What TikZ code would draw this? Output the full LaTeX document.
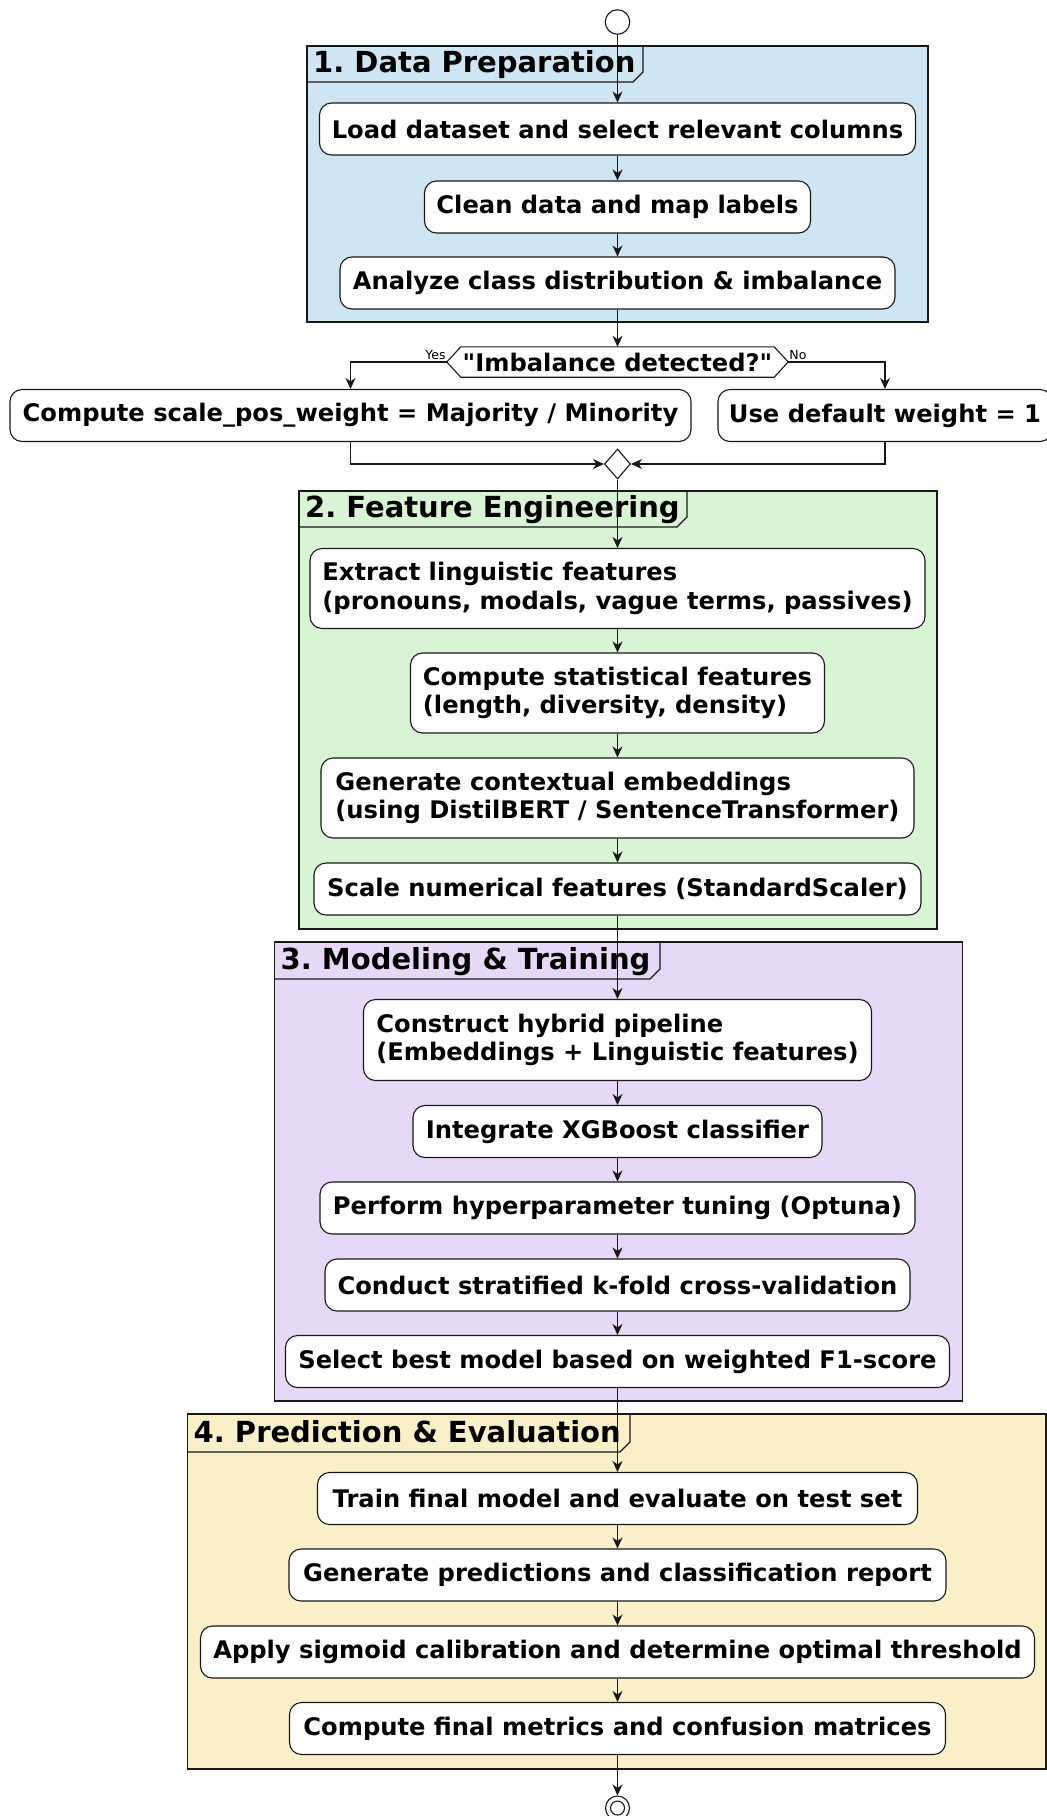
\documentclass[tikz,border=0pt]{standalone}
\usepackage{fontspec}
\setmainfont{DejaVu Sans}[Ligatures=TeXOff]
\usetikzlibrary{arrows.meta,shapes.geometric,calc}

\definecolor{prepfill}{HTML}{CFE5F2}
\definecolor{featfill}{HTML}{D9F3D5}
\definecolor{modfill}{HTML}{E6D8F6}
\definecolor{evalfill}{HTML}{F9F0C9}
\definecolor{ink}{HTML}{181818}

\tikzset{
  act/.style={draw=ink, line width=1.1pt, fill=white, rounded corners=12pt,
    font=\fontsize{24.2}{28.5}\selectfont\bfseries, inner xsep=0pt, inner ysep=0pt,
    minimum height=52pt, text=black},
  act2/.style={act, align=left, minimum height=80pt},
  flow/.style={draw=ink, line width=1.1pt, -{Stealth[length=11pt,width=10pt,inset=3.5pt]}},
  part/.style={draw=ink, line width=1.1pt},
  parttitle/.style={anchor=base west, inner sep=0pt, font=\fontsize{29}{32}\selectfont\bfseries},
  branchlabel/.style={inner sep=0pt, font=\fontsize{12.5}{14}\selectfont},
  terminal/.style={circle, draw=ink, line width=1.1pt, fill=white, inner sep=0pt},
}

% #1 fill, #2 left, #3 top, #4 right, #5 bottom, #6 tab right, #7 tab bottom, #8 title, #9 name
\newcommand\phasepanel[9]{%
  \fill[#1] (#2,#3) rectangle (#4,#5);
  \draw[part] (#2,#3) rectangle (#4,#5);
  \draw[part] (#2,#7) -- (#6-10,#7) -- (#6,#7-10) -- (#6,#3);
  \node[parttitle] (#9) at (#2+6,#7-9.5) {#8};
}

\begin{document}
\frenchspacing
\begin{tikzpicture}[x=1pt,y=-1pt]
\useasboundingbox (0,0) rectangle (1047,1816);
\fill[white] (0,0) rectangle (1047,1816);

% phase panels
\phasepanel{prepfill}{307}{46}{928}{322}{643}{82}{1. Data Preparation}{t1}
\phasepanel{featfill}{299}{491}{937}{929}{687}{527}{2. Feature Engineering}{t2}
\phasepanel{modfill}{274.5}{942}{962.5}{1401}{660}{979}{3. Modeling \& Training}{t3}
\phasepanel{evalfill}{187.5}{1414}{1046}{1769}{630}{1452}{4. Prediction \& Evaluation}{t4}

% start
\node[terminal, minimum size=24.5pt] (start) at (617.5,22) {};

% 1. data preparation
\node[act, minimum width=596pt] (load) at (617.5,129) {Load dataset and select relevant columns};
\node[act, minimum width=386pt] (clean) at (617.5,207) {Clean data and map labels};
\node[act, minimum width=555pt] (analyze) at (617.5,283) {Analyze class distribution \& imbalance};

% decision
\node[inner sep=0pt, minimum width=341pt, minimum height=30pt,
      font=\fontsize{24.2}{28}\selectfont\bfseries] (dec) at (617.5,362) {"Imbalance detected?"};
\draw[part] (dec.west) -- ([xshift=14pt]dec.north west) -- ([xshift=-14pt]dec.north east)
  -- (dec.east) -- ([xshift=-14pt]dec.south east) -- ([xshift=14pt]dec.south west) -- cycle;
\node[branchlabel, anchor=south east] (yes) at ([xshift=-1pt,yshift=2pt]dec.west) {Yes};
\node[branchlabel, anchor=south west] (no) at ([xshift=1pt,yshift=2pt]dec.east) {No};

\node[act, minimum width=681pt] (wbox) at (350.5,415.5) {Compute scale\_pos\_weight = Majority / Minority};
\node[act, minimum width=334pt] (dbox) at (885,415.5) {Use default weight = 1};

\node[diamond, draw=ink, line width=1.1pt, fill=white, inner sep=0pt,
      minimum width=26pt, minimum height=30pt] (merge) at (617.5,464) {};

% 2. feature engineering
\node[act2, minimum width=615pt] (extract) at (617.5,588.5)
  {Extract linguistic features\\(pronouns, modals, vague terms, passives)};
\node[act2, minimum width=414pt] (stats) at (617.5,693)
  {Compute statistical features\\(length, diversity, density)};
\node[act2, minimum width=593pt] (embed) at (617.5,798)
  {Generate contextual embeddings\\(using DistilBERT / SentenceTransformer)};
\node[act, minimum width=607pt] (scale) at (617.5,889) {Scale numerical features (StandardScaler)};

% 3. modeling & training
\node[act2, minimum width=508pt, minimum height=81pt] (hybrid) at (617.5,1040)
  {Construct hybrid pipeline\\(Embeddings + Linguistic features)};
\node[act, minimum width=409pt] (xgb) at (617.5,1131.5) {Integrate XGBoost classifier};
\node[act, minimum width=595pt] (tune) at (617.5,1208) {Perform hyperparameter tuning (Optuna)};
\node[act, minimum width=585pt] (cv) at (617.5,1285) {Conduct stratified k-fold cross-validation};
\node[act, minimum width=664pt] (best) at (617.5,1361.5) {Select best model based on weighted F1-score};

% 4. prediction & evaluation
\node[act, minimum width=600pt] (train) at (617.5,1498.5) {Train final model and evaluate on test set};
\node[act, minimum width=657pt] (report) at (617.5,1575) {Generate predictions and classification report};
\node[act, minimum width=834pt] (calib) at (617.5,1652) {Apply sigmoid calibration and determine optimal threshold};
\node[act, minimum width=656pt] (metrics) at (617.5,1728.5) {Compute final metrics and confusion matrices};

% end
\node[terminal, minimum size=24pt] (stop) at (617.5,1808) {};
\draw[draw=ink, line width=1.1pt] (stop.center) circle[radius=7pt];

% connectors
\draw[flow] (start) -- (load);
\draw[flow] (load) -- (clean);
\draw[flow] (clean) -- (analyze);
\draw[flow] (analyze) -- (dec);
\draw[flow] (dec.west) -| (wbox.north);
\draw[flow] (dec.east) -| (dbox.north);
\draw[flow] (wbox.south) |- (merge.west);
\draw[flow] (dbox.south) |- (merge.east);
\draw[flow] (merge) -- (extract);
\draw[flow] (extract) -- (stats);
\draw[flow] (stats) -- (embed);
\draw[flow] (embed) -- (scale);
\draw[flow] (scale) -- (hybrid);
\draw[flow] (hybrid) -- (xgb);
\draw[flow] (xgb) -- (tune);
\draw[flow] (tune) -- (cv);
\draw[flow] (cv) -- (best);
\draw[flow] (best) -- (train);
\draw[flow] (train) -- (report);
\draw[flow] (report) -- (calib);
\draw[flow] (calib) -- (metrics);
\draw[flow] (metrics) -- (stop);
\end{tikzpicture}
\end{document}
